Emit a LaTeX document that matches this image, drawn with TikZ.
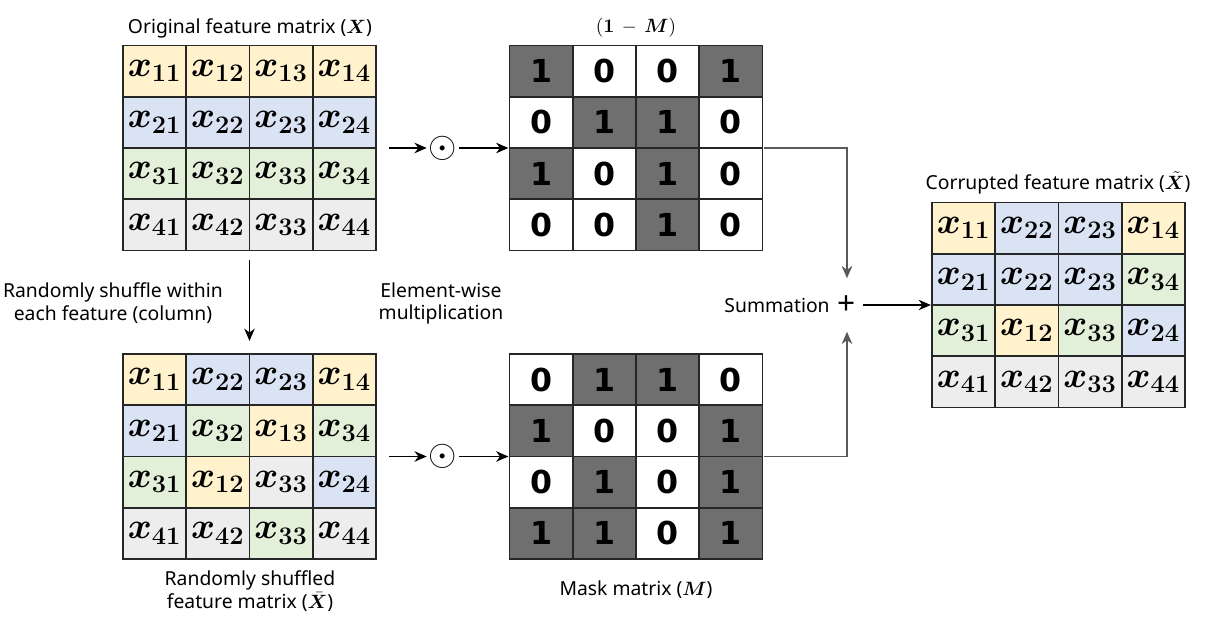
\documentclass[tikz,border=0pt]{standalone}
\usepackage[no-math]{fontspec}
\setmainfont{Noto Sans}
\newfontfamily\maskfont{DejaVu Sans}
\usepackage{bm}
\usetikzlibrary{matrix,arrows.meta,positioning}

\definecolor{featyel}{HTML}{FFF2CC}
\definecolor{featblu}{HTML}{DAE3F3}
\definecolor{featgrn}{HTML}{E2F0D9}
\definecolor{featgry}{HTML}{EDEDED}
\definecolor{maskdark}{HTML}{6F6F6F}

\newcommand{\feat}[1]{$\bm{x}_{\bm{#1}}$}

\tikzset{
  featgrid/.style={matrix of nodes, inner sep=0pt, column sep=-0.9pt, row sep=-0.9pt,
    nodes={draw=black!85, line width=0.9pt, minimum width=1.265cm, minimum height=1.025cm,
      inner sep=0pt, font=\fontsize{20}{22}\selectfont}},
  maskgrid/.style={featgrid, nodes={font=\maskfont\bfseries\fontsize{18}{20}\selectfont}},
  ye/.style={fill=featyel}, bl/.style={fill=featblu},
  gr/.style={fill=featgrn}, gy/.style={fill=featgry},
  dk/.style={fill=maskdark},
  caption/.style={font=\fontsize{11}{13}\selectfont, align=center},
  flow/.style={-{Stealth[length=7pt,width=6pt]}, line width=0.6pt},
  sumflow/.style={flow, draw=black!65},
}

\begin{document}
\begin{tikzpicture}
  \useasboundingbox (0,0) rectangle (24.32,12.52);

  % original features
  \node[caption] (origcap) at (5.0,11.96) {Original feature matrix ($\bm{X}$)};
  \matrix[featgrid, row 1/.style={nodes=ye}, row 2/.style={nodes=bl},
          row 3/.style={nodes=gr}, row 4/.style={nodes=gy}] (orig) at (4.99,9.56) {
    \feat{11} & \feat{12} & \feat{13} & \feat{14} \\
    \feat{21} & \feat{22} & \feat{23} & \feat{24} \\
    \feat{31} & \feat{32} & \feat{33} & \feat{34} \\
    \feat{41} & \feat{42} & \feat{33} & \feat{44} \\
  };

  % shuffled features
  \matrix[featgrid] (shuf) at (4.99,3.39) {
    |[ye]| \feat{11} & |[bl]| \feat{22} & |[bl]| \feat{23} & |[ye]| \feat{14} \\
    |[bl]| \feat{21} & |[gr]| \feat{32} & |[ye]| \feat{13} & |[gr]| \feat{34} \\
    |[gr]| \feat{31} & |[ye]| \feat{12} & |[gy]| \feat{33} & |[bl]| \feat{24} \\
    |[gy]| \feat{41} & |[gy]| \feat{42} & |[gr]| \feat{33} & |[gy]| \feat{44} \\
  };
  \node[caption] (shufcap) at (5.0,0.69) {Randomly shuffled\\feature matrix ($\bar{\bm{X}}$)};

  % masks
  \node[caption] (invcap) at (12.72,11.96) {$(\bm{1}\,-\,\bm{M})$};
  \matrix[maskgrid] (inv) at (12.72,9.56) {
    |[dk]| 1 & 0 & 0 & |[dk]| 1 \\
    0 & |[dk]| 1 & |[dk]| 1 & 0 \\
    |[dk]| 1 & 0 & |[dk]| 1 & 0 \\
    0 & 0 & |[dk]| 1 & 0 \\
  };
  \matrix[maskgrid] (mask) at (12.72,3.39) {
    0 & |[dk]| 1 & |[dk]| 1 & 0 \\
    |[dk]| 1 & 0 & 0 & |[dk]| 1 \\
    0 & |[dk]| 1 & 0 & |[dk]| 1 \\
    |[dk]| 1 & |[dk]| 1 & 0 & |[dk]| 1 \\
  };
  \node[caption] (maskcap) at (12.72,0.72) {Mask matrix ($\bm{M}$)};

  % corrupted features
  \node[caption] (corrcap) at (21.16,8.86) {Corrupted feature matrix ($\tilde{\bm{X}}$)};
  \matrix[featgrid] (corr) at (21.17,6.42) {
    |[ye]| \feat{11} & |[bl]| \feat{22} & |[bl]| \feat{23} & |[ye]| \feat{14} \\
    |[bl]| \feat{21} & |[bl]| \feat{22} & |[bl]| \feat{23} & |[gr]| \feat{34} \\
    |[gr]| \feat{31} & |[ye]| \feat{12} & |[gr]| \feat{33} & |[bl]| \feat{24} \\
    |[gy]| \feat{41} & |[gy]| \feat{42} & |[gy]| \feat{33} & |[gy]| \feat{44} \\
  };

  % operators
  \node[inner sep=1pt, font=\huge] (dottop) at (8.86,9.56) {$\odot$};
  \node[inner sep=1pt, font=\huge] (dotbot) at (8.86,3.39) {$\odot$};
  \node[inner sep=4pt, font=\fontsize{18}{20}\selectfont] (plus) at (16.94,6.42) {+};
  \node[caption, left=-3pt of plus] (sumlabel) {Summation};

  \node[caption] (shufnote) at (2.26,6.45) {Randomly shuffle within\\each feature (column)};
  \node[caption] (multnote) at (8.82,6.45) {Element-wise\\multiplication};

  \draw[flow, shorten <=0.16cm, shorten >=0.24cm] (orig) -- (shuf);
  \draw[flow, shorten <=0.24cm] (orig) -- (dottop);
  \draw[flow] (dottop) -- (inv);
  \draw[flow, shorten <=0.24cm] (shuf) -- (dotbot);
  \draw[flow] (dotbot) -- (mask);
  \draw[sumflow, shorten >=0.2cm] (inv.east) -| (plus);
  \draw[sumflow, shorten >=0.2cm] (mask.east) -| (plus);
  \draw[flow] (plus) -- (corr);
\end{tikzpicture}
\end{document}
